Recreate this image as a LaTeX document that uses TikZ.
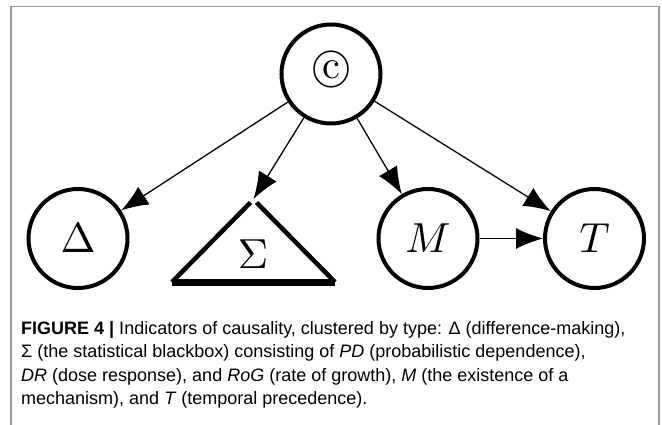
\documentclass[tikz,border=0pt]{standalone}
\usepackage{fontspec}
\usepackage{graphicx}
\newfontfamily\capfont{Liberation Sans}
\usetikzlibrary{arrows.meta}
\newcommand{\bigmath}[1]{\scalebox{4.2}{$#1$}}
\newcommand{\circc}{\scalebox{4}{\ooalign{\hfil\raise.07ex\hbox{c}\hfil\crcr$\bigcirc$}}}
\begin{document}
\begin{tikzpicture}[x=1pt,y=-1pt,
  varnode/.style={circle,draw,line width=4pt,minimum size=99pt,inner sep=0pt},
  edge/.style={line width=1.3pt,-{Latex[length=27pt,width=21pt]}},
  framecol/.style={draw=black!40,line width=1.2pt}]
\useasboundingbox (0,0) rectangle (662,425);
\draw[framecol] (11,425) -- (11,6.5) -- (659,6.5) -- (659,425);
\node[varnode] (C) at (331,74) {\circc};
\node[varnode] (D) at (78,238.5) {\bigmath{\Delta}};
\node[varnode] (M) at (428,238.5) {\bigmath{M}};
\node[varnode] (T) at (594.5,238.5) {\bigmath{T}};
\node[inner sep=0pt] (S) at (253,254) {\bigmath{\Sigma}};
\coordinate (SL) at (172,282);
\coordinate (SR) at (335,282);
\coordinate (SA) at (253.5,199);
\draw[line width=4.5pt] (SL) -- (250.5,202.5);
\draw[line width=4.5pt] (256.5,202.5) -- (SR);
\draw[line width=7pt] (SL) -- (SR);
\draw[edge] (C) -- (D);
\draw[edge] (C) -- (SA);
\draw[edge] (C) -- (M);
\draw[edge] (C) -- (T);
\draw[edge] (M) -- (T);
\node[anchor=base west,inner sep=0pt,align=left,
  font=\capfont\fontsize{18}{23.3}\selectfont] (cap) at (21,404.5)
  {\textbf{FIGURE 4 |} Indicators of causality, clustered by type: Δ (difference-making),\\
   Σ (the statistical blackbox) consisting of \textit{PD} (probabilistic dependence),\\
   \textit{DR} (dose response), and \textit{RoG} (rate of growth), \textit{M} (the existence of a\\
   mechanism), and \textit{T} (temporal precedence).};
\end{tikzpicture}
\end{document}
